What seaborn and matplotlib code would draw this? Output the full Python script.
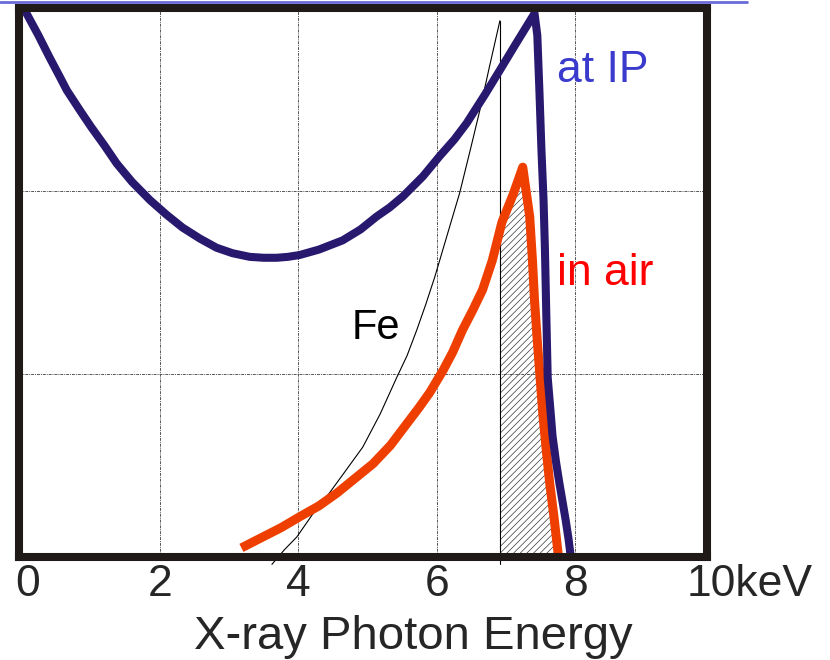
import numpy as np
import pandas as pd
import matplotlib.pyplot as plt
from matplotlib.lines import Line2D
import seaborn as sns

# curves (energy in keV, relative intensity)
ip_energy = [0.05, 0.25, 0.41, 0.55, 0.66, 0.85, 1.01, 1.20, 1.38, 1.60, 1.86, 2.10,
             2.33, 2.58, 2.82, 3.05, 3.30, 3.50, 3.69, 3.85, 4.02, 4.30, 4.64, 4.90,
             5.13, 5.32, 5.51, 5.80, 6.04, 6.25, 6.43, 6.70, 6.91, 7.15, 7.41,
             7.45, 7.48, 7.51, 7.54, 7.56, 7.58, 7.60, 7.64, 7.67, 7.72, 7.77, 7.82,
             7.86, 7.90, 7.93]
ip_value = [2.99, 2.85, 2.73, 2.63, 2.55, 2.44, 2.35, 2.25, 2.15, 2.05, 1.95, 1.87,
            1.80, 1.74, 1.69, 1.66, 1.64, 1.635, 1.635, 1.64, 1.65, 1.68, 1.73, 1.79,
            1.86, 1.91, 1.97, 2.08, 2.19, 2.28, 2.37, 2.53, 2.66, 2.81, 2.97,
            2.85, 2.55, 2.22, 1.95, 1.68, 1.32, 0.98, 0.80, 0.66, 0.52, 0.40, 0.29,
            0.20, 0.10, 0.01]

air_energy = [3.18, 3.49, 3.75, 4.02, 4.30, 4.56, 4.82, 5.08, 5.33, 5.57, 5.75, 5.90,
              6.09, 6.23, 6.37, 6.52, 6.66, 6.80, 6.94, 7.10, 7.24,
              7.34, 7.38, 7.41, 7.45, 7.49, 7.53, 7.58, 7.63, 7.69, 7.75]
air_value = [0.05, 0.11, 0.16, 0.22, 0.28, 0.35, 0.43, 0.51, 0.61, 0.73, 0.82, 0.90,
             1.02, 1.12, 1.24, 1.35, 1.46, 1.62, 1.83, 1.98, 2.13,
             1.86, 1.62, 1.40, 1.18, 0.98, 0.78, 0.58, 0.40, 0.22, 0.02]

fe_energy = [3.62, 3.80, 3.98, 4.20, 4.45, 4.70, 4.93, 5.18, 5.42, 5.57, 5.71, 5.84,
             5.97, 6.15, 6.33, 6.48, 6.62, 6.76, 6.91]
fe_value = [-0.04, 0.04, 0.11, 0.23, 0.35, 0.48, 0.60, 0.78, 0.98, 1.10, 1.24, 1.38,
            1.53, 1.76, 1.99, 2.22, 2.44, 2.68, 2.93]

fe_edge = 6.91
tick_pos = [0.1, 2, 4, 6, 8, 9.6]
tick_labels = ['0', '2', '4', '6', '8', '10keV']

ip = pd.DataFrame({'E': ip_energy, 'I': ip_value})
air = pd.DataFrame({'E': air_energy, 'I': air_value})
fe = pd.DataFrame({'E': fe_energy, 'I': fe_value})

sns.set_style('white')
plt.rcParams['font.family'] = ['Liberation Sans', 'DejaVu Sans']
plt.rcParams['hatch.linewidth'] = 0.45

fig = plt.figure(figsize=(8.3, 6.6), dpi=100)
ax = fig.add_axes([0.0229, 0.156, 0.829, 0.832])

# grid
ax.vlines([2, 4, 6, 8], 0, 3, colors='#555555', lw=0.7, ls=(0, (3, 1, 1, 1)), zorder=1)
ax.hlines([1, 2], -0.03, 9.9, colors='#555555', lw=0.7, ls=(0, (3, 1, 1, 1)), zorder=1)

# hatched region between Fe edge and the in-air curve
hx = [fe_edge] + [e for e in air_energy if e > fe_edge]
hy = [np.interp(fe_edge, air_energy, air_value)] + [v for e, v in zip(air_energy, air_value) if e > fe_edge]
ax.fill(hx + [fe_edge], hy + [0], facecolor='none', edgecolor='#222222', lw=0,
        hatch='/////', zorder=2)

sns.lineplot(data=fe, x='E', y='I', sort=False, estimator=None, color='black',
             lw=0.8, ax=ax, clip_on=False, zorder=3)
ax.plot([fe_edge, fe_edge], [fe_value[-1], -0.04], color='black', lw=0.8,
        clip_on=False, zorder=3)
sns.lineplot(data=air, x='E', y='I', sort=False, estimator=None, color='#ee3f00',
             lw=6.5, ax=ax, solid_capstyle='butt', solid_joinstyle='round', zorder=4)
sns.lineplot(data=ip, x='E', y='I', sort=False, estimator=None, color='#28196f',
             lw=5.8, ax=ax, solid_capstyle='butt', solid_joinstyle='round', zorder=5)

ax.text(7.73, 2.66, 'at IP', color='#3a3acc', fontsize=32, va='center', ha='left')
ax.text(7.74, 1.55, 'in air', color='#ff0000', fontsize=32, va='center', ha='left')
ax.text(4.77, 1.25, 'Fe', color='black', fontsize=30, va='center', ha='left')

ax.set_xlim(-0.03, 9.9)
ax.set_ylim(0, 3)
ax.set_yticks([])
ax.set_xticks(tick_pos)
ax.set_xticklabels(tick_labels, fontsize=32)
ax.get_xticklabels()[-1].set_ha('left')
ax.tick_params(axis='x', length=0, pad=5)
ax.set_xlabel('X-ray Photon Energy', fontsize=34)
ax.xaxis.set_label_coords(0.573, -0.105)
ax.set_ylabel('')

for s in ax.spines.values():
    s.set_linewidth(5.8)
    s.set_color('#1f1a17')
    s.set_zorder(6)

fig.add_artist(Line2D([0, 0.9], [0.997, 0.997], color='#6a6ad8', lw=2))

fig.savefig('out.png', dpi=100)
